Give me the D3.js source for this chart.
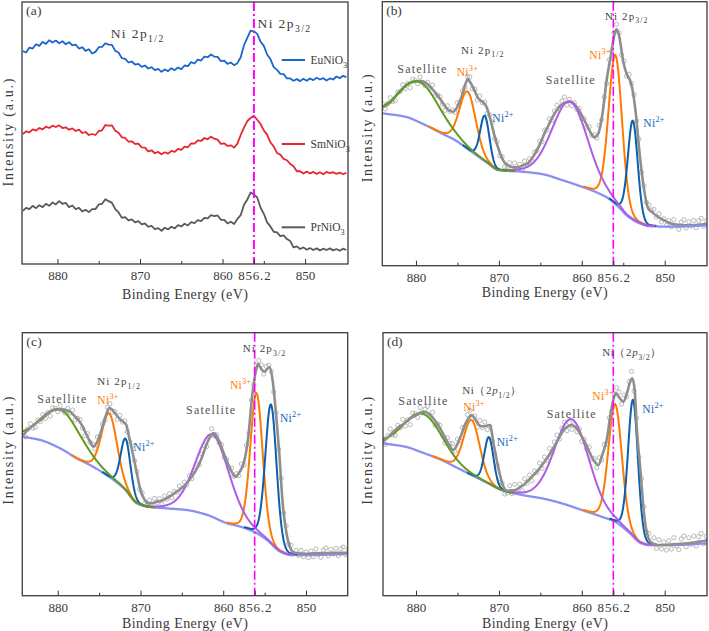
<!DOCTYPE html>
<html><head><meta charset="utf-8">
<script src="https://cdn.jsdelivr.net/npm/d3@7"></script>
<style>body{margin:0;background:#fff;}svg{display:block;}</style>
</head><body>
<svg id="chart" width="709" height="631"></svg>
<script>
// ================= DATA =================
const majorTicks = [880, 870, 860, 856.2, 850];
const minorTicks = [875, 865, 855];
const refEnergy = 856.2;

// ---- (a) raw spectra on a 0.4 eV grid starting at 884.2 eV ----
const aStartEnergy = 884.2, aStepEnergy = 0.4;
const seriesNames = ["EuNiO3", "SmNiO3", "PrNiO3"];
const euNiO3 = [640,636,651,648,661,656,668,662,673,666,672,664,670,661,667,658,660,648,652,641,
646,633,638,652,653,664,660,659,641,636,619,617,606,609,600,602,593,597,588,592,
583,587,578,585,580,589,583,591,586,597,595,607,603,615,612,624,622,630,624,623,
610,612,602,606,598,604,622,658,680,702,700,692,669,656,630,616,592,584,572,571,
558,558,551,556,550,557,551,558,553,560,555,559,552,558,555,564,559,566,562];
const smNiO3 = [391,399,396,405,401,409,405,413,409,416,412,417,409,411,404,408,400,404,394,397,
388,391,388,400,402,418,416,417,401,395,381,379,368,369,361,362,351,350,339,342,
333,337,330,336,332,340,337,346,343,353,351,363,362,372,370,379,375,383,377,374,
361,363,355,357,350,362,388,410,430,439,446,434,421,402,389,366,353,334,329,316,
312,301,294,279,279,272,278,272,277,271,276,270,277,273,276,271,275,270,274];
const prNiO3 = [160,169,165,175,168,177,171,181,175,185,179,189,181,184,171,176,165,169,158,163,
156,165,165,179,181,195,189,184,165,155,139,141,131,134,125,129,119,122,112,115,
105,108,100,109,104,112,107,117,113,121,116,126,123,132,129,139,137,147,144,146,
133,133,122,127,120,136,147,178,194,215,209,200,170,151,125,113,97,95,84,86,
75,69,50,53,45,50,43,48,42,47,41,46,42,47,41,45,40,46,42];

// ---- fitted components (same order in every panel) ----
const componentNames = ["Ni3+ 2p3/2", "Ni2+ 2p3/2", "Satellite 2p3/2", "Ni3+ 2p1/2", "Ni2+ 2p1/2", "Satellite 2p1/2"];

// ---- (b) ----
const bBgEnergy = [884.0,881.3,879.3,876.9,875.3,873.3,871.3,870.1,867.2,864.8,862.4,860.0,858.4,856.8,855.6,854.4,852.8,852.0,849.1,844.9];
const bBgIntensity = [457,447,427,397,377,342,307,287,282,275,257,237,222,202,177,147,125,119,117,121];
const bCenters = [855.95, 853.85, 861.4, 873.76, 871.7, 879.5];
const bHeights = [447, 297, 244, 172, 136, 121];
const bFwhm = [1.9, 1.4, 5.0, 2.3, 1.3, 5.6];
const bEnvelope = [[884,477],[883.5,482],[883,492],[882.5,507],[882,522],[881.5,535],[881,545],[880.5,550],[880,553],[879.5,554],[879,551],[878.5,542],[878,529],[877.5,514],[877,497],[876.5,479],[876,465],[875.5,462],[875,477],[874.5,507],[874,547],[873.75,560],[873.5,552],[873,529],[872.5,502],[872,492],[871.5,477],[871,437],[870.5,387],[870,347],[869.5,317],[869,302],[868.5,297],[868,295],[867.5,297],[867,302],[866.5,307],[866,322],[865.5,342],[865,367],[864.5,397],[864,422],[863.5,447],[863,467],[862.5,482],[862,489],[861.5,492],[861,487],[860.5,472],[860,452],[859.5,427],[859,402],[858.5,385],[858,397],[857.5,457],[857,557],[856.5,630],[856,700],[855.8,709],[855.5,690],[855,612],[854.5,570],[854.2,557],[853.9,530],[853.5,460],[853,330],[852.5,230],[852,172],[851.5,160],[851,150],[850.5,142],[850,135],[849.5,129],[849,125],[848,122],[847,121],[846,123],[845,125]];
const bPointStart = 884.0, bPointStep = 0.3;
const bPoints = [485,470,487,504,492,495,521,522,543,531,547,534,560,556,546,566,550,540,550,533,
542,509,512,507,485,466,480,463,467,460,489,489,524,535,568,566,531,530,497,509,
489,491,457,452,430,381,372,330,327,297,297,309,289,308,293,304,287,314,302,321,
313,340,345,374,372,407,407,441,436,464,482,472,494,506,482,499,480,489,469,472,
441,441,415,417,391,393,383,421,437,506,547,618,644,699,724,699,633,615,569,574,
547,513,435,380,280,240,190,182,167,169,146,156,131,141,121,136,117,138,120,109,
131,138,113,132,119,136,114,135,142,118,135];

// ---- (c) ----
const cBgEnergy = [884.2,882.1,879.7,877.7,876.1,874.1,872.0,870.4,869.2,866.8,864.4,861.9,859.5,857.9,856.3,854.7,853.1,851.8,849.8,844.8];
const cBgIntensity = [477,467,442,412,392,362,322,277,267,262,257,242,217,207,192,167,132,122,122,125];
const cCenters = [855.98, 854.23, 861.3, 873.77, 871.8, 879.5];
const cHeights = [420, 417, 247, 190, 154, 117];
const cFwhm = [1.75, 1.6, 4.8, 2.2, 1.4, 5.5];
const cEnvelope = [[884.2,482],[883.5,500],[883,510],[882.5,520],[882,528],[881.5,540],[881,550],[880.5,556],[880,558],[879.5,559],[879,557],[878.5,552],[878,540],[877.5,527],[877,508],[876.5,482],[876,458],[875.7,447],[875.5,450],[875,475],[874.5,515],[874,553],[873.8,563],[873.5,560],[873,545],[872.5,530],[872,520],[871.7,512],[871.5,490],[871,435],[870.5,375],[870,317],[869.5,288],[869,277],[868.5,278],[868,282],[867.5,285],[867,290],[866.5,297],[866,305],[865.5,314],[865,324],[864.5,335],[864,350],[863.5,368],[863,390],[862.5,420],[862,455],[861.5,480],[861.2,488],[861,486],[860.5,465],[860,432],[859.5,400],[859,373],[858.5,357],[858,372],[857.5,400],[857,470],[856.5,600],[856,680],[855.8,695],[855.4,680],[855,672],[854.7,680],[854.4,685],[854,640],[853.7,567],[853.2,417],[852.85,287],[852.5,210],[852,150],[851.5,130],[851,127],[850,126],[849,127],[847,128],[845,129],[844.8,129]];
const cPointStart = 884.2, cPointStep = 0.3;
const cPoints = [488,477,500,516,503,505,527,522,543,532,549,539,564,562,552,570,556,548,562,548,
557,527,532,528,503,480,486,461,455,441,476,478,515,526,565,576,551,553,529,541,
521,525,492,463,449,405,372,319,309,276,275,287,270,292,279,291,275,299,289,306,
294,313,310,329,317,341,333,360,351,377,395,392,425,450,447,477,501,480,483,459,
453,415,410,382,383,358,366,360,395,392,451,486,587,634,690,706,692,665,688,691,
673,611,549,439,352,248,209,155,151,126,136,121,136,117,131,114,134,117,140,123,
115,137,143,120,139,125,142,120,141,146,123,139];

// ---- (d) ----
const dBgEnergy = [884.0,881.3,879.3,876.9,875.3,873.3,871.3,869.7,867.2,864.8,862.4,860.0,857.6,856.0,854.4,852.8,852.0,849.1,844.9];
const dBgIntensity = [457,447,430,407,387,362,337,317,302,292,277,257,237,222,192,157,152,152,157];
const dCenters = [855.98, 853.82, 861.2, 873.29, 871.2, 879.1];
const dHeights = [353, 409, 262, 165, 140, 117];
const dFwhm = [1.9, 1.4, 4.9, 2.3, 1.3, 5.3];
const dEnvelope = [[884,462],[883.5,472],[883,485],[882.5,497],[882,508],[881.5,515],[881,525],[880.5,535],[880,541],[879.5,549],[879.1,552],[878.5,547],[878,535],[877.5,518],[877,498],[876.5,475],[876,452],[875.5,437],[875,455],[874.5,485],[874,518],[873.5,538],[873.3,542],[873,535],[872.5,515],[872,508],[871.5,510],[871.1,512],[870.6,450],[870.1,387],[869.5,330],[869,315],[868.5,316],[868,317],[867.5,325],[867,333],[866.5,345],[866,357],[865.5,370],[865,385],[864.5,402],[864,420],[863.5,440],[863,462],[862.5,485],[862,502],[861.5,510],[861.2,512],[861,510],[860.5,498],[860,477],[859.5,455],[859,427],[858.5,403],[858,392],[857.5,425],[857,467],[856.5,550],[856,604],[855.9,607],[855.5,595],[855,582],[854.5,612],[854.2,640],[853.9,652],[853.6,610],[853.4,517],[852.9,367],[852.5,247],[852,175],[851.5,158],[851,152],[850,152],[849,154],[848,156],[847,158],[846,162],[845,166],[844.9,167]];
const dPointStart = 884.0, dPointStep = 0.3;
const dPoints = [472,454,480,500,482,481,511,504,529,509,528,513,548,546,535,565,548,560,568,537,
550,511,516,511,482,458,474,457,456,434,470,465,504,506,543,556,531,539,506,526,
504,521,498,508,463,425,392,339,338,305,308,330,306,334,316,335,315,351,337,362,
345,374,370,398,382,416,406,442,428,461,482,470,503,521,495,519,499,515,492,501,
463,469,440,446,411,411,384,414,408,454,454,534,553,606,624,611,575,602,597,643,
673,614,532,415,351,267,190,187,155,174,142,168,140,161,137,165,140,174,149,138,
170,179,147,174,154,179,149,177,187,156,178];

// ================= STYLE / LAYOUT =================
const FONT = "'Liberation Serif','DejaVu Serif',serif";
const TXT = "#3a3a3a";
const seriesColors = ["#1a66cc", "#e8262f", "#5a5a5a"];
const compColors = ["#ff7a00", "#0b5fae", "#ab5ee6", "#ff7a00", "#0b5fae", "#5e9b1f"];
const BG_COLOR = "#8b8ff0", ENV_COLOR = "#8e8e8e", PT_COLOR = "#a8a8a8", ORANGE = "#ff7a00", BLUE = "#1266b8";

const svg = d3.select("#chart");
const defs = svg.append("defs");

function makePanel(cfg) {
  const g = svg.append("g");
  const x = d3.scaleLinear().domain(cfg.xDom).range([cfg.x0, cfg.x1]);
  const y = d3.scaleLinear().domain([0, cfg.yMax]).range([cfg.y1, cfg.y0]);
  defs.append("clipPath").attr("id", "clip-" + cfg.id).append("rect")
    .attr("x", cfg.x0).attr("y", cfg.y0).attr("width", cfg.x1 - cfg.x0).attr("height", cfg.y1 - cfg.y0);
  const plot = g.append("g").attr("clip-path", `url(#clip-${cfg.id})`);
  const top = g.append("g");

  const ax = g.append("g").attr("transform", `translate(0,${cfg.y1})`)
    .call(d3.axisBottom(x).tickValues(majorTicks).tickSize(-5).tickPadding(7)
      .tickFormat(d => d === 856.2 ? "856.2" : String(d)));
  const axm = g.append("g").attr("transform", `translate(0,${cfg.y1})`)
    .call(d3.axisBottom(x).tickValues(minorTicks).tickSize(-3).tickFormat(""));
  [ax, axm].forEach(a => { a.select(".domain").remove(); a.selectAll("line").attr("stroke", "#333").attr("stroke-width", 1); });
  ax.selectAll("text").attr("font-family", FONT).attr("font-size", 13).attr("fill", TXT)
    .attr("textLength", function () { return this.textContent.length * 6.5; })
    .attr("lengthAdjust", "spacing");

  g.append("rect").attr("x", cfg.x0).attr("y", cfg.y0).attr("width", cfg.x1 - cfg.x0).attr("height", cfg.y1 - cfg.y0)
    .attr("fill", "none").attr("stroke", "#3c3c3c").attr("stroke-width", 1.3);

  g.append("text").attr("x", (cfg.x0 + cfg.x1) / 2).attr("y", cfg.titleY).attr("text-anchor", "middle")
    .attr("font-family", FONT).attr("font-size", 14).attr("fill", TXT)
    .attr("textLength", 126).attr("lengthAdjust", "spacing").text("Binding Energy (eV)");
  g.append("text").attr("transform", `translate(${cfg.yTitleX},${cfg.yTitleY}) rotate(-90)`)
    .attr("text-anchor", "middle").attr("dominant-baseline", "central")
    .attr("font-family", FONT).attr("font-size", 14).attr("fill", TXT)
    .attr("textLength", 108).attr("lengthAdjust", "spacing").text("Intensity (a.u.)");
  g.append("text").attr("x", cfg.x0 + 4).attr("y", cfg.y0 + 13)
    .attr("font-family", FONT).attr("font-size", 13.5).attr("fill", TXT)
    .attr("textLength", 15.5).attr("lengthAdjust", "spacing").text(`(${cfg.id})`);

  return { g, plot, top, x, y, cfg };
}

function refLine(p, width) {
  p.top.append("line").attr("x1", p.x(refEnergy)).attr("x2", p.x(refEnergy))
    .attr("y1", p.cfg.y0).attr("y2", p.cfg.y1)
    .attr("stroke", "#ff00ff").attr("stroke-width", width).attr("stroke-dasharray", "9,3,2,3");
}

function rich(g, x, y, parts, size, color, spacing) {
  const t = g.append("text").attr("x", x).attr("y", y).attr("font-family", FONT)
    .attr("font-size", size).attr("fill", color).attr("letter-spacing", spacing || 0);
  let shift = 0;
  parts.forEach(pt => {
    const ts = t.append("tspan").text(pt.t);
    let target = 0;
    if (pt.sub) { ts.attr("font-size", size * 0.72); target = size * 0.32; }
    if (pt.sup) { ts.attr("font-size", size * 0.72); target = -size * 0.42; }
    if (pt.it) ts.attr("font-style", "italic");
    if (target !== shift) { ts.attr("dy", target - shift); shift = target; }
  });
  return t;
}

function monotone(xsDesc, ysDesc) {
  const xs = xsDesc.slice().reverse(), ys = ysDesc.slice().reverse();
  const n = xs.length, dx = [], m = [], t = [];
  for (let i = 0; i < n - 1; i++) { dx[i] = xs[i + 1] - xs[i]; m[i] = (ys[i + 1] - ys[i]) / dx[i]; }
  t[0] = m[0]; t[n - 1] = m[n - 2];
  for (let i = 1; i < n - 1; i++) {
    t[i] = (m[i - 1] * m[i] <= 0) ? 0 : 3 * (dx[i - 1] + dx[i]) / ((2 * dx[i] + dx[i - 1]) / m[i - 1] + (dx[i] + 2 * dx[i - 1]) / m[i]);
  }
  return e => {
    let i = d3.bisectRight(xs, e) - 1; i = Math.max(0, Math.min(n - 2, i));
    const h = dx[i], s = (e - xs[i]) / h;
    const h00 = (1 + 2 * s) * (1 - s) * (1 - s), h10 = s * (1 - s) * (1 - s), h01 = s * s * (3 - 2 * s), h11 = s * s * (s - 1);
    return h00 * ys[i] + h10 * h * t[i] + h01 * ys[i + 1] + h11 * h * t[i + 1];
  };
}

function glShape(u) { return 0.9 * Math.exp(-4 * Math.LN2 * u * u) + 0.1 / (1 + 4 * u * u); }

function drawFit(p, d, envOnTop) {
  const [eHi, eLo] = p.cfg.xDom;
  const pts = d.points.map((v, i) => [d.pStart - d.pStep * i, v]);
  p.plot.append("g").selectAll("circle").data(pts).join("circle")
    .attr("cx", q => p.x(q[0])).attr("cy", q => p.y(q[1])).attr("r", 2.1)
    .attr("fill", "none").attr("stroke", PT_COLOR).attr("stroke-width", 0.8);

  const line = d3.line().x(q => p.x(q[0])).y(q => p.y(q[1]));
  const envPath = () => p.plot.append("path").attr("d", d3.line().x(q => p.x(q[0])).y(q => p.y(q[1])).curve(d3.curveMonotoneX)(d.env))
    .attr("fill", "none").attr("stroke", ENV_COLOR).attr("stroke-width", 2.6);
  if (!envOnTop) envPath();

  const bg = monotone(d.bgE, d.bgI);
  const grid = d3.range(eHi, eLo - 0.001, -0.05);
  p.plot.append("path").attr("d", line(grid.map(e => [e, bg(e)])))
    .attr("fill", "none").attr("stroke", BG_COLOR).attr("stroke-width", 2.3);

  componentNames.forEach((name, k) => {
    const c = d.centers[k], h = d.heights[k], f = d.fwhm[k];
    const es = grid.filter(e => Math.abs(e - c) <= 2.05 * f);
    const cp = es.map(e => [e, bg(e) + h * glShape((e - c) / f)]);
    p.plot.append("path").attr("d", line(cp)).attr("fill", "none")
      .attr("stroke", compColors[k]).attr("stroke-width", 2);
  });
  if (envOnTop) envPath();
}

// ================= PANEL (a) =================
const pa = makePanel({ id: "a", x0: 22, x1: 348, y0: 2, y1: 264, xDom: [884.3, 844.8], yMax: 788,
  titleY: 298.5, yTitleX: 8, yTitleY: 132.5 });
[euNiO3, smNiO3, prNiO3].forEach((arr, s) => {
  const data = arr.map((v, i) => [aStartEnergy - aStepEnergy * i, v]);
  pa.plot.append("path").datum(data)
    .attr("d", d3.line().x(q => pa.x(q[0])).y(q => pa.y(q[1])))
    .attr("fill", "none").attr("stroke", seriesColors[s]).attr("stroke-width", 1.8).attr("stroke-linejoin", "round");
});
refLine(pa, 2);
rich(pa.top, 110.7, 37.5, [{ t: "Ni 2p" }, { t: "1/2", sub: true }], 13.5, TXT, 1.4);
rich(pa.top, 257.5, 27.5, [{ t: "Ni 2p" }, { t: "3/2", sub: true }], 13.5, TXT, 1.4);
const legendYs = [60, 144, 227.3];
seriesNames.forEach((nm, s) => {
  pa.top.append("line").attr("x1", 281.7).attr("x2", 305).attr("y1", legendYs[s]).attr("y2", legendYs[s])
    .attr("stroke", seriesColors[s]).attr("stroke-width", 2);
  rich(pa.top, 310.5, legendYs[s] + 4, [{ t: nm.slice(0, 5) }, { t: nm.slice(5), sub: true }], 11.5, TXT, 0);
});

// ================= PANEL (b) =================
const pb = makePanel({ id: "b", x0: 382.3, x1: 707, y0: 1.7, y1: 265.7, xDom: [884.06, 844.9], yMax: 792,
  titleY: 297, yTitleX: 367.7, yTitleY: 128.3 });
drawFit(pb, { points: bPoints, pStart: bPointStart, pStep: bPointStep, env: bEnvelope, bgE: bBgEnergy, bgI: bBgIntensity,
  centers: bCenters, heights: bHeights, fwhm: bFwhm }, false);
refLine(pb, 1.6);

// ================= PANEL (c) =================
const pc = makePanel({ id: "c", x0: 22.3, x1: 347.7, y0: 332.7, y1: 595.7, xDom: [884.28, 844.96], yMax: 789,
  titleY: 627.5, yTitleX: 8, yTitleY: 450.7 });
drawFit(pc, { points: cPoints, pStart: cPointStart, pStep: cPointStep, env: cEnvelope, bgE: cBgEnergy, bgI: cBgIntensity,
  centers: cCenters, heights: cHeights, fwhm: cFwhm }, true);
refLine(pc, 1.6);

// ================= PANEL (d) =================
const pd = makePanel({ id: "d", x0: 383, x1: 707, y0: 332.7, y1: 595.7, xDom: [883.98, 844.9], yMax: 789,
  titleY: 627.5, yTitleX: 367.7, yTitleY: 450.8 });
drawFit(pd, { points: dPoints, pStart: dPointStart, pStep: dPointStep, env: dEnvelope, bgE: dBgEnergy, bgI: dBgIntensity,
  centers: dCenters, heights: dHeights, fwhm: dFwhm }, true);
refLine(pd, 1.6);

// ================= annotations (b)(c)(d) =================
function sat(p, x, y) {
  p.top.append("text").attr("x", x).attr("y", y).attr("font-family", FONT).attr("font-size", 12)
    .attr("fill", "#555").attr("textLength", 49).attr("lengthAdjust", "spacing").text("Satellite");
}
function ion(p, x, y, charge, color) {
  rich(p.top, x, y, [{ t: "Ni" }, { t: charge, sup: true }], 11.5, color, 0.3);
}
const NI12 = [{ t: "Ni 2p" }, { t: "1/2", sub: true }];
const NI32 = [{ t: "Ni 2p" }, { t: "3/2", sub: true }];

sat(pb, 397.3, 73); sat(pb, 545.7, 83.5);
rich(pb.top, 461, 53.5, NI12, 11, "#444", 1.1);
rich(pb.top, 605, 19.5, NI32, 11, "#444", 1.1);
ion(pb, 456.7, 75.5, "3+", ORANGE); ion(pb, 492.3, 122, "2+", BLUE);
ion(pb, 589.3, 58.5, "3+", ORANGE); ion(pb, 643.3, 127, "2+", BLUE);

sat(pc, 37.3, 403); sat(pc, 186, 413.5);
rich(pc.top, 97.3, 385, NI12, 11, "#444", 1.1);
rich(pc.top, 242.7, 352, NI32, 11, "#444", 1.1);
ion(pc, 97.3, 404, "3+", ORANGE); ion(pc, 133.3, 450.5, "2+", BLUE);
ion(pc, 230, 389, "3+", ORANGE); ion(pc, 280, 422, "2+", BLUE);

sat(pd, 398.3, 405); sat(pd, 546.7, 417.5);
rich(pd.top, 462.3, 394, [{ t: "Ni（2" }, { t: "p", it: true }, { t: "1/2", sub: true }, { t: "）" }], 11, "#444", 0.6);
rich(pd.top, 602.3, 356, [{ t: "Ni（2" }, { t: "p", it: true }, { t: "3/2", sub: true }, { t: "）" }], 11, "#444", 0.6);
ion(pd, 463.3, 410.5, "3+", ORANGE); ion(pd, 496.7, 445.5, "2+", BLUE);
ion(pd, 592.3, 400, "3+", ORANGE); ion(pd, 642.3, 413, "2+", BLUE);
</script>
</body></html>
